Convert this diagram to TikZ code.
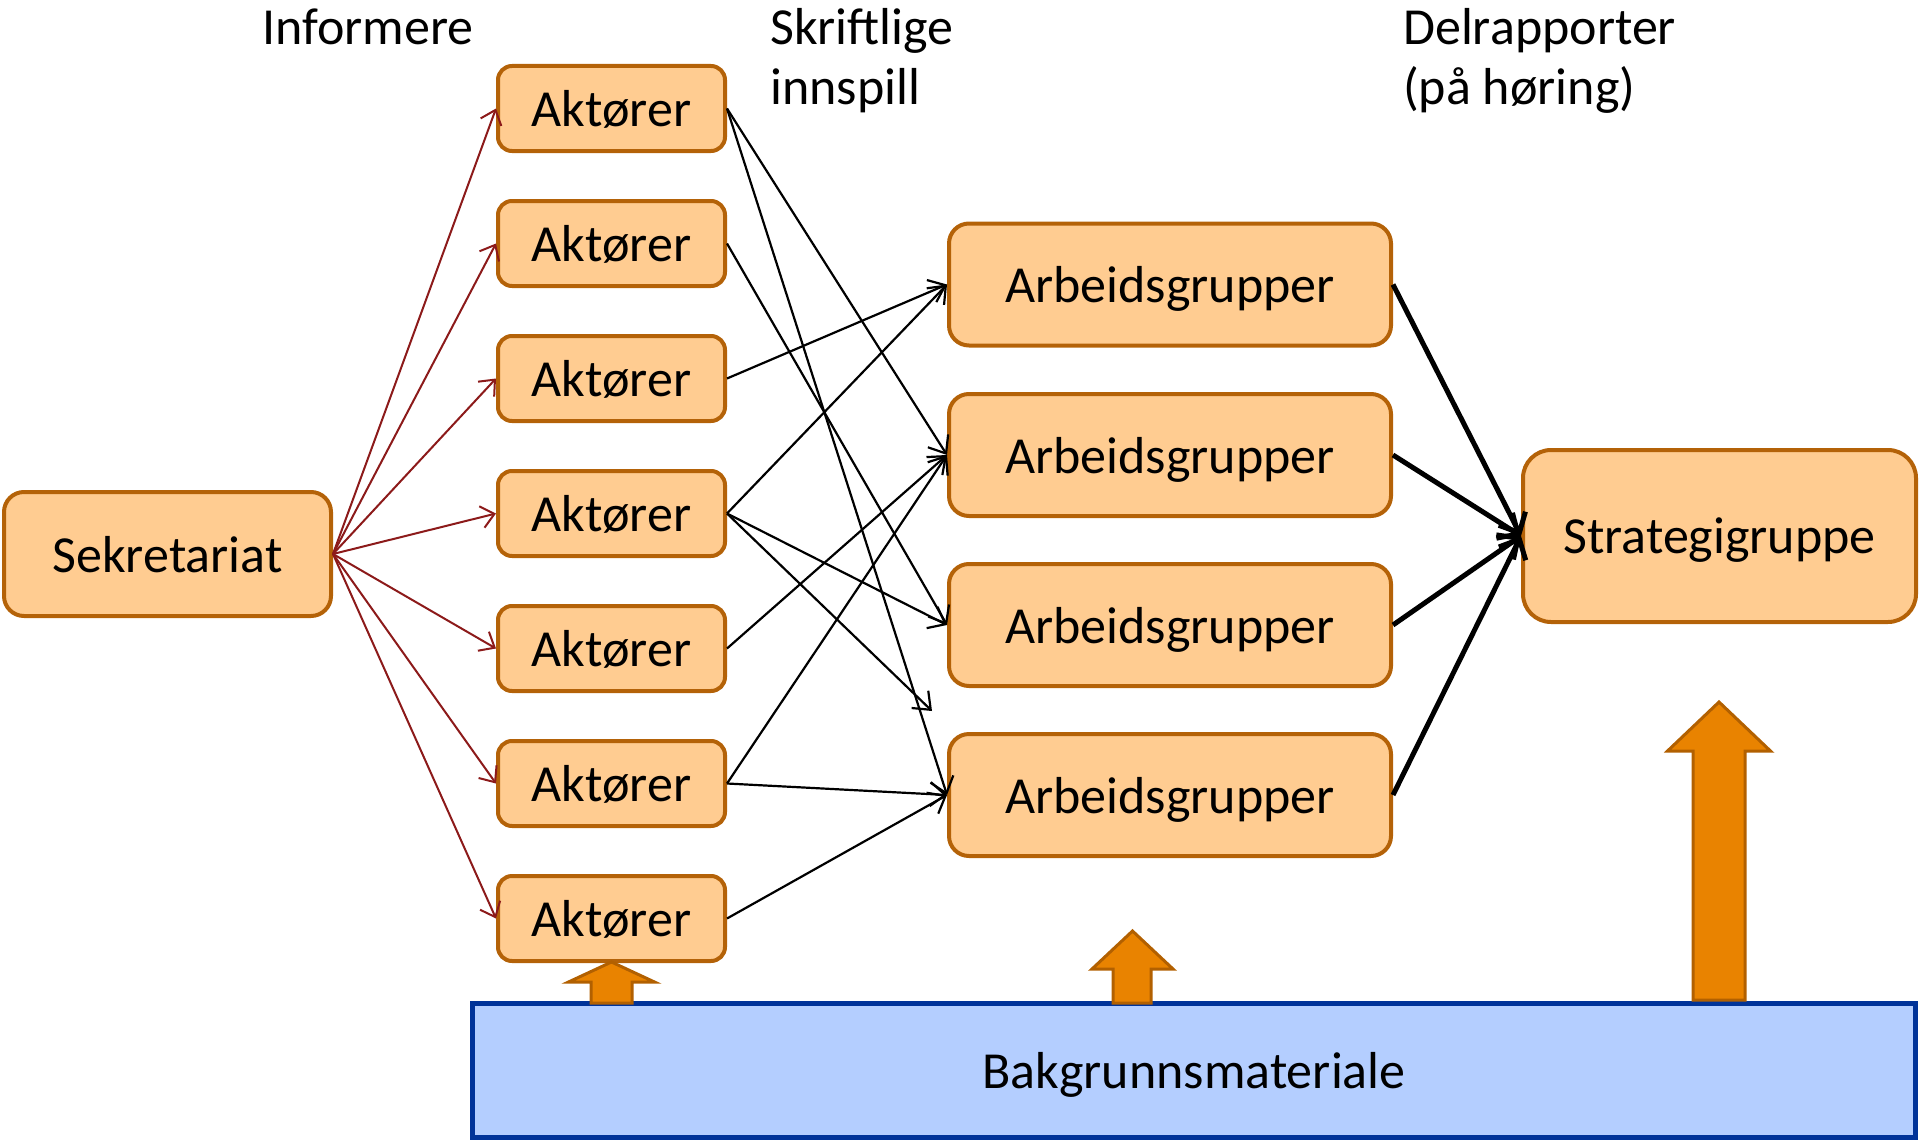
\documentclass[tikz,border=0pt]{standalone}
\usepackage{fontspec}
\setmainfont{Carlito}
\usetikzlibrary{arrows.meta}
\definecolor{boxfill}{RGB}{255,204,145}
\definecolor{boxline}{RGB}{180,98,8}
\definecolor{blkfill}{RGB}{233,131,0}
\definecolor{blkline}{RGB}{178,96,0}
\definecolor{bgfill}{RGB}{180,206,255}
\definecolor{bgline}{RGB}{0,51,153}
\definecolor{infored}{RGB}{140,26,26}
\begin{document}
\begin{tikzpicture}[x=1pt,y=-1pt,
  txt/.style={inner sep=0pt, font=\fontsize{52}{59}\selectfont},
  box/.style={draw=boxline, fill=boxfill, line width=4pt, rounded corners=#1, inner sep=0pt, text depth=0pt, font=\fontsize{52}{59}\selectfont},
  akt/.style={box=14pt, minimum width=227pt, minimum height=85pt},
  agr/.style={box=20pt, minimum width=442pt, minimum height=122pt},
  sek/.style={box=20pt, minimum width=327pt, minimum height=124pt},
  strat/.style={box=28pt, minimum width=393pt, minimum height=172pt},
  bgbox/.style={draw=bgline, fill=bgfill, line width=5pt, inner sep=0pt, text depth=0pt, minimum width=1443pt, minimum height=134pt, font=\fontsize{52}{59}\selectfont},
  inform/.style={draw=infored, line width=2pt, -{Straight Barb[length=13pt,width=22pt,line width=2pt]}},
  innspill/.style={draw=black, line width=2.2pt, -{Straight Barb[length=15pt,width=24pt,line width=2.2pt]}},
  report/.style={draw=black, line width=5pt, -{Straight Barb[length=16pt,width=30pt,line width=5pt]}},
  blockarrow/.style={draw=blkline, fill=blkfill, line width=3pt, line join=miter}
]
\useasboundingbox (0,0) rectangle (1920,1140);

% headings
\node[txt, anchor=base west] (h1) at (262,45) {Informere};
\node[txt, anchor=base west] (h2a) at (770,45) {Skriftlige};
\node[txt, anchor=base west] (h2b) at (770,104) {innspill};
\node[txt, anchor=base west] (h3a) at (1403,45) {Delrapporter};
\node[txt, anchor=base west] (h3b) at (1403,104) {(på høring)};

% nodes
\node[sek] (sek) at (167.5,554) {Sekretariat};
\foreach \i in {1,...,7} {
  \node[akt] (a\i) at (611.5,{108.5+135*(\i-1)}) {Aktører};
}
\node[agr] (g1) at (1170,284.5) {Arbeidsgrupper};
\node[agr] (g2) at (1170,455) {Arbeidsgrupper};
\node[agr] (g3) at (1170,625) {Arbeidsgrupper};
\node[agr] (g4) at (1170,795) {Arbeidsgrupper};
\node[strat] (st) at (1719.5,536) {Strategigruppe};
\node[bgbox] (bg) at (1194,1070.5) {Bakgrunnsmateriale};

% informere
\foreach \i in {1,...,7} {
  \draw[inform] (sek.east) -- (a\i.west);
}

% innspill
\coordinate (gap) at (932,711);
\draw[innspill] (a1.east) -- (g2.west);
\draw[innspill] (a1.east) -- (g4.west);
\draw[innspill] (a2.east) -- (g3.west);
\draw[innspill] (a3.east) -- (g1.west);
\draw[innspill] (a4.east) -- (g1.west);
\draw[innspill] (a4.east) -- (g3.west);
\draw[innspill] (a4.east) -- (gap);
\draw[innspill] (a5.east) -- (g2.west);
\draw[innspill] (a6.east) -- (g2.west);
\draw[innspill] (a6.east) -- (g4.west);
\draw[innspill] (a7.east) -- (g4.west);

% delrapporter
\foreach \j in {1,...,4} {
  \draw[report] (g\j.east) -- (st.west);
}

% block arrows
\draw[blockarrow] (591,1003) -- (591,982) -- (568.5,982) -- (611.5,962) -- (654.5,982) -- (632,982) -- (632,1003) -- cycle;
\draw[blockarrow] (1113,1003) -- (1113,969) -- (1092,969) -- (1132.5,931) -- (1173,969) -- (1151,969) -- (1151,1003) -- cycle;
\draw[blockarrow] (1693,1000) -- (1693,751) -- (1667.5,751) -- (1719,702) -- (1770.5,751) -- (1745,751) -- (1745,1000) -- cycle;
\end{tikzpicture}
\end{document}
